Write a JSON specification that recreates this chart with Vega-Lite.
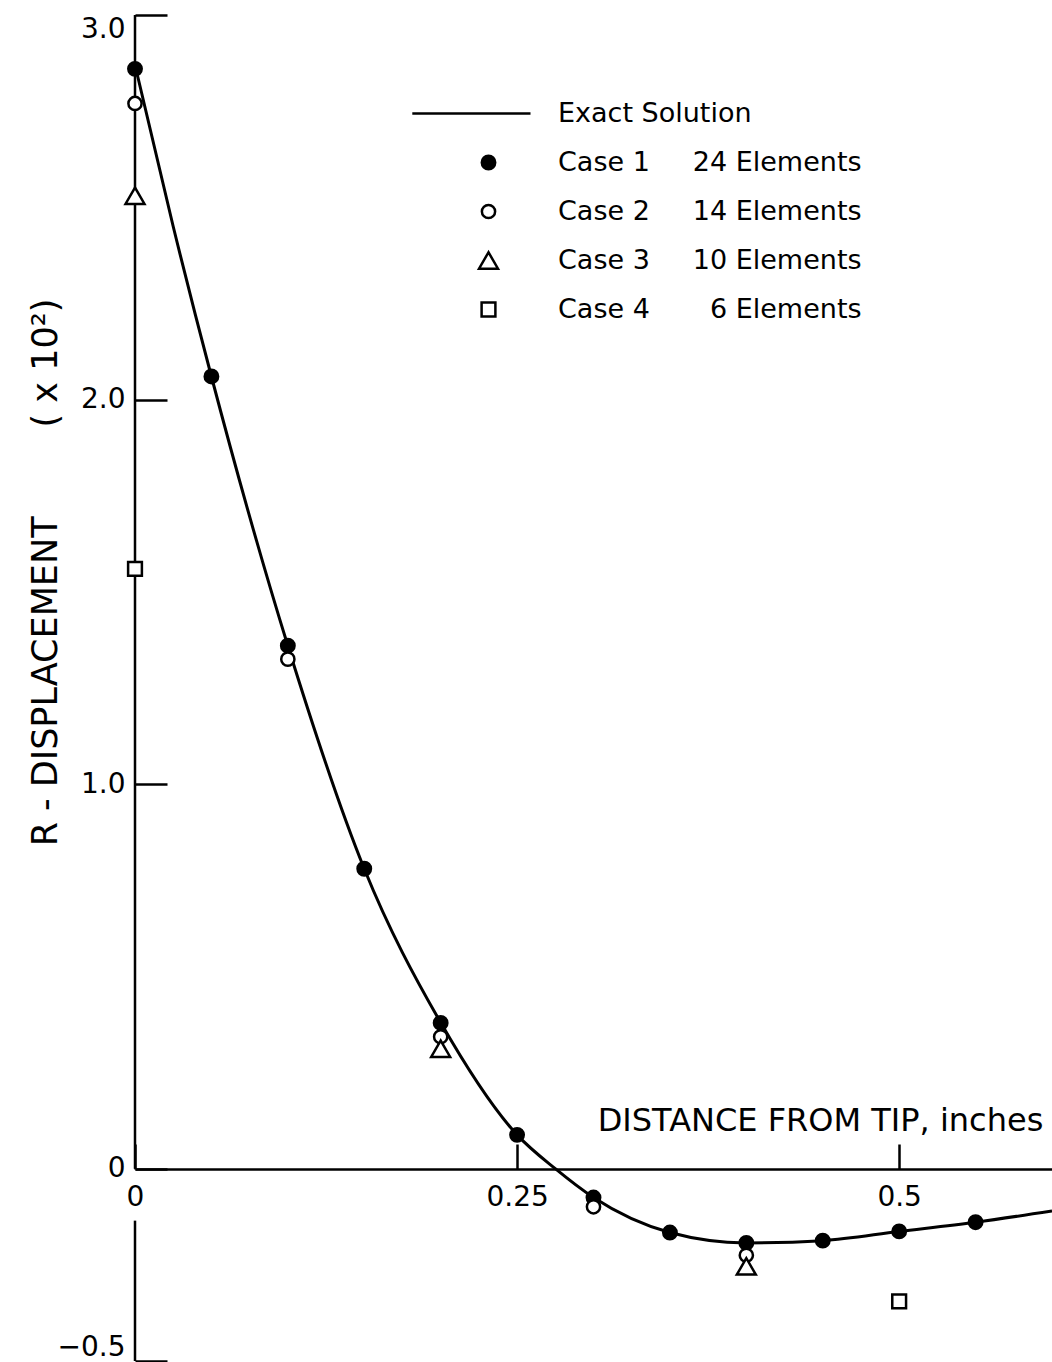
{
  "$schema": "https://vega.github.io/schema/vega-lite/v6.json",
  "width": 917,
  "height": 1346,
  "autosize": "none",
  "padding": {"left": 135, "top": 15, "right": 0, "bottom": 1},
  "background": "white",
  "config": {
    "view": {"stroke": null},
    "font": "DejaVu Sans",
    "axis": {"labelFont": "DejaVu Sans", "titleFont": "DejaVu Sans", "labelColor": "black", "titleColor": "black", "domainColor": "black", "tickColor": "black", "grid": false},
    "legend": {
      "orient": "none", "legendX": 340, "legendY": 85,
      "labelFontSize": 27, "labelFont": "DejaVu Sans", "labelColor": "black", "labelLimit": 0,
      "symbolStrokeColor": "black", "symbolStrokeWidth": 2.5,
      "rowPadding": 21, "labelOffset": 56, "padding": 0
    }
  },
  "datasets": {
    "yaxisline": [
      {"x": 0, "v": 3.0, "v2": 0},
      {"x": 0, "v": -0.135, "v2": -0.5}
    ],
    "exact": [
      {"x": 0.0, "v": 2.87},
      {"x": 0.025, "v": 2.45},
      {"x": 0.05, "v": 2.06},
      {"x": 0.1, "v": 1.36},
      {"x": 0.15, "v": 0.78},
      {"x": 0.2, "v": 0.38},
      {"x": 0.25, "v": 0.088},
      {"x": 0.275, "v": 0.0},
      {"x": 0.3, "v": -0.075},
      {"x": 0.35, "v": -0.166},
      {"x": 0.4, "v": -0.193},
      {"x": 0.45, "v": -0.187},
      {"x": 0.5, "v": -0.163},
      {"x": 0.55, "v": -0.139},
      {"x": 0.6, "v": -0.11}
    ],
    "cases": [
      {"x": 0.0, "v": 2.86, "series": "Case 1\u00a0\u00a0\u00a0\u00a0\u00a024 Elements"},
      {"x": 0.05, "v": 2.06, "series": "Case 1\u00a0\u00a0\u00a0\u00a0\u00a024 Elements"},
      {"x": 0.1, "v": 1.36, "series": "Case 1\u00a0\u00a0\u00a0\u00a0\u00a024 Elements"},
      {"x": 0.15, "v": 0.78, "series": "Case 1\u00a0\u00a0\u00a0\u00a0\u00a024 Elements"},
      {"x": 0.2, "v": 0.379, "series": "Case 1\u00a0\u00a0\u00a0\u00a0\u00a024 Elements"},
      {"x": 0.25, "v": 0.088, "series": "Case 1\u00a0\u00a0\u00a0\u00a0\u00a024 Elements"},
      {"x": 0.3, "v": -0.075, "series": "Case 1\u00a0\u00a0\u00a0\u00a0\u00a024 Elements"},
      {"x": 0.35, "v": -0.166, "series": "Case 1\u00a0\u00a0\u00a0\u00a0\u00a024 Elements"},
      {"x": 0.4, "v": -0.193, "series": "Case 1\u00a0\u00a0\u00a0\u00a0\u00a024 Elements"},
      {"x": 0.45, "v": -0.187, "series": "Case 1\u00a0\u00a0\u00a0\u00a0\u00a024 Elements"},
      {"x": 0.5, "v": -0.163, "series": "Case 1\u00a0\u00a0\u00a0\u00a0\u00a024 Elements"},
      {"x": 0.55, "v": -0.139, "series": "Case 1\u00a0\u00a0\u00a0\u00a0\u00a024 Elements"},
      {"x": 0.0, "v": 2.77, "series": "Case 2\u00a0\u00a0\u00a0\u00a0\u00a014 Elements"},
      {"x": 0.1, "v": 1.325, "series": "Case 2\u00a0\u00a0\u00a0\u00a0\u00a014 Elements"},
      {"x": 0.2, "v": 0.343, "series": "Case 2\u00a0\u00a0\u00a0\u00a0\u00a014 Elements"},
      {"x": 0.3, "v": -0.099, "series": "Case 2\u00a0\u00a0\u00a0\u00a0\u00a014 Elements"},
      {"x": 0.4, "v": -0.225, "series": "Case 2\u00a0\u00a0\u00a0\u00a0\u00a014 Elements"},
      {"x": 0.0, "v": 2.53, "series": "Case 3\u00a0\u00a0\u00a0\u00a0\u00a010 Elements"},
      {"x": 0.2, "v": 0.312, "series": "Case 3\u00a0\u00a0\u00a0\u00a0\u00a010 Elements"},
      {"x": 0.4, "v": -0.254, "series": "Case 3\u00a0\u00a0\u00a0\u00a0\u00a010 Elements"},
      {"x": 0.0, "v": 1.56, "series": "Case 4\u00a0\u00a0\u00a0\u00a0\u00a0\u20076 Elements"},
      {"x": 0.5, "v": -0.345, "series": "Case 4\u00a0\u00a0\u00a0\u00a0\u00a0\u20076 Elements"}
    ]
  },
  "layer": [
    {
      "data": {"name": "yaxisline"},
      "mark": {"type": "rule", "stroke": "black", "strokeWidth": 2.5},
      "encoding": {
        "x": {"field": "x", "type": "quantitative"},
        "y": {"field": "v", "type": "quantitative"},
        "y2": {"field": "v2"}
      }
    },
    {
      "data": {"name": "exact"},
      "mark": {"type": "line", "interpolate": "monotone", "stroke": "black", "strokeWidth": 3},
      "encoding": {
        "x": {
          "field": "x", "type": "quantitative",
          "scale": {"domain": [0, 0.6], "nice": false, "zero": false},
          "axis": {
            "values": [0, 0.25, 0.5],
            "labelExpr": "toString(datum.value)",
            "labelFlush": false,
            "offset": -192,
            "tickSize": -25,
            "tickWidth": 2.5,
            "domainWidth": 2.5,
            "labelPadding": 39,
            "labelFontSize": 28,
            "title": "DISTANCE FROM TIP, inches",
            "titleFontSize": 32,
            "titleFontWeight": "normal",
            "titleX": 685,
            "titleY": -39,
            "titleAlign": "center",
            "titleBaseline": "alphabetic"
          }
        },
        "y": {
          "field": "v", "type": "quantitative",
          "scale": {"domain": [-0.5, 3.0], "nice": false, "zero": false},
          "axis": {
            "values": [-0.5, 0, 1, 2, 3],
            "labelExpr": "datum.value == 0 ? '0' : format(datum.value, '.1f')",
            "domain": false,
            "tickSize": -32,
            "tickWidth": 2.5,
            "labelPadding": 42,
            "labelFontSize": 28,
            "labelFlush": true,
            "title": "R - DISPLACEMENT\u00a0\u00a0\u00a0\u00a0\u00a0\u00a0\u00a0\u00a0( x 10\u00b2)",
            "titleFontSize": 35,
            "titleFontWeight": "normal",
            "titleX": -90,
            "titleY": 557,
            "titleAngle": -90,
            "titleAlign": "center",
            "titleBaseline": "middle"
          }
        }
      }
    },
    {
      "data": {"name": "cases"},
      "mark": {"type": "point", "filled": false, "opacity": 1, "strokeWidth": 2.5},
      "encoding": {
        "x": {"field": "x", "type": "quantitative"},
        "y": {"field": "v", "type": "quantitative"},
        "shape": {
          "field": "series", "type": "nominal", "title": null,
          "scale": {
            "domain": ["Exact Solution", "Case 1\u00a0\u00a0\u00a0\u00a0\u00a024 Elements", "Case 2\u00a0\u00a0\u00a0\u00a0\u00a014 Elements", "Case 3\u00a0\u00a0\u00a0\u00a0\u00a010 Elements", "Case 4\u00a0\u00a0\u00a0\u00a0\u00a0\u20076 Elements"],
            "range": ["M-12.7,0L7,0", "circle", "circle", "triangle-up", "square"]
          }
        },
        "fill": {
          "field": "series", "type": "nominal", "title": null,
          "scale": {
            "domain": ["Exact Solution", "Case 1\u00a0\u00a0\u00a0\u00a0\u00a024 Elements", "Case 2\u00a0\u00a0\u00a0\u00a0\u00a014 Elements", "Case 3\u00a0\u00a0\u00a0\u00a0\u00a010 Elements", "Case 4\u00a0\u00a0\u00a0\u00a0\u00a0\u20076 Elements"],
            "range": ["transparent", "black", "white", "white", "white"]
          }
        },
        "stroke": {
          "field": "series", "type": "nominal", "title": null,
          "scale": {
            "domain": ["Exact Solution", "Case 1\u00a0\u00a0\u00a0\u00a0\u00a024 Elements", "Case 2\u00a0\u00a0\u00a0\u00a0\u00a014 Elements", "Case 3\u00a0\u00a0\u00a0\u00a0\u00a010 Elements", "Case 4\u00a0\u00a0\u00a0\u00a0\u00a0\u20076 Elements"],
            "range": ["black", "black", "black", "black", "black"]
          }
        },
        "size": {
          "field": "series", "type": "nominal", "title": null,
          "scale": {
            "type": "ordinal",
            "domain": ["Exact Solution", "Case 1\u00a0\u00a0\u00a0\u00a0\u00a024 Elements", "Case 2\u00a0\u00a0\u00a0\u00a0\u00a014 Elements", "Case 3\u00a0\u00a0\u00a0\u00a0\u00a010 Elements", "Case 4\u00a0\u00a0\u00a0\u00a0\u00a0\u20076 Elements"],
            "range": [144, 180, 175, 360, 190]
          }
        }
      }
    }
  ]
}
